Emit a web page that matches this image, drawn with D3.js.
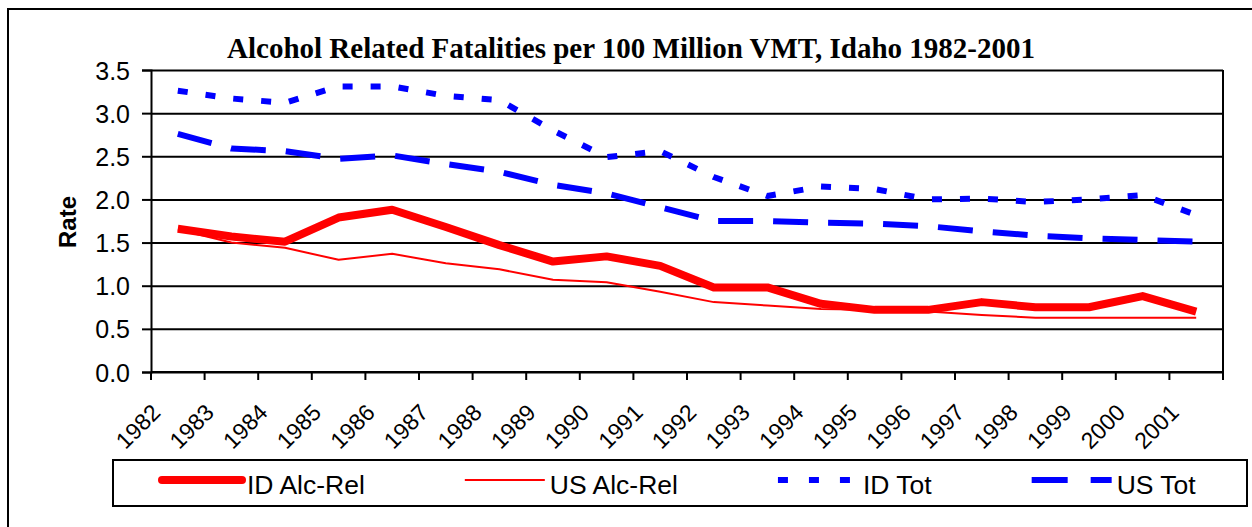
<!DOCTYPE html>
<html>
<head>
<meta charset="utf-8">
<script src="https://cdn.jsdelivr.net/npm/d3@7"></script>
<style>
  body { margin: 0; background: #fff; }
  text { font-family: "Liberation Sans", Arial, sans-serif; fill: #000; }
</style>
</head>
<body>
<div id="chart"></div>
<script>
// data
let years = ["1982","1983","1984","1985","1986","1987","1988","1989","1990","1991",
             "1992","1993","1994","1995","1996","1997","1998","1999","2000","2001"]
let idAlcRel = [1.66,1.57,1.51,1.79,1.88,1.68,1.47,1.28,1.34,1.23,0.98,0.98,0.79,0.72,0.72,0.81,0.75,0.75,0.88,0.70]
let usAlcRel = [1.65,1.50,1.44,1.30,1.37,1.26,1.19,1.07,1.04,0.93,0.81,0.77,0.73,0.72,0.70,0.66,0.63,0.63,0.63,0.63]
let idTot = [3.26,3.17,3.12,3.31,3.31,3.20,3.15,2.80,2.49,2.56,2.26,2.04,2.15,2.12,2.00,2.01,1.97,2.00,2.05,1.82]
let usTot = [2.76,2.59,2.56,2.47,2.51,2.41,2.32,2.17,2.07,1.91,1.75,1.75,1.73,1.72,1.69,1.63,1.58,1.55,1.53,1.51]
let yTicks = [0, 0.5, 1.0, 1.5, 2.0, 2.5, 3.0, 3.5]
let seriesNames = ["ID Alc-Rel", "US Alc-Rel", "ID Tot", "US Tot"]

// line styles per series
let styles = [
  { values: idAlcRel, color: "#ff0000", width: 8, dash: null },
  { values: usAlcRel, color: "#ff0000", width: 2, dash: null },
  { values: idTot, color: "#0000ff", width: 6, dash: "10,18" },
  { values: usTot, color: "#0000ff", width: 6, dash: "35,20" }
]

let width = 1252, height = 527
let plot = { left: 151, right: 1223, top: 70, bottom: 372 }

let svg = d3.select("#chart")
  .append("svg")
  .attr("width", width)
  .attr("height", height)

// outer chart frame
svg.append("rect")
  .attr("x", 8).attr("y", 9)
  .attr("width", 1270).attr("height", 540)
  .attr("fill", "none")
  .attr("stroke", "#000")
  .attr("stroke-width", 2)

let x = d3.scaleBand().domain(years).range([plot.left, plot.right])
let y = d3.scaleLinear().domain([0, 3.5]).range([plot.bottom, plot.top])

// title
svg.append("text")
  .attr("x", 631).attr("y", 58)
  .attr("text-anchor", "middle")
  .style("font-family", "'Liberation Serif', 'Times New Roman', serif")
  .style("font-weight", "bold")
  .style("font-size", "29px")
  .text("Alcohol Related Fatalities per 100 Million VMT, Idaho 1982-2001")

// gridlines
svg.append("g")
  .attr("transform", `translate(${plot.left},0)`)
  .call(d3.axisLeft(y).tickValues(yTicks).tickSize(-(plot.right - plot.left)).tickFormat(""))
  .call(g => g.select(".domain").remove())
  .selectAll("line")
  .attr("stroke", "#000")
  .attr("stroke-width", 2)

// y axis with labels
svg.append("g")
  .attr("transform", `translate(${plot.left},0)`)
  .call(d3.axisLeft(y).tickValues(yTicks).tickSize(9).tickPadding(12).tickFormat(d3.format(".1f")))
  .call(g => g.select(".domain").attr("stroke-width", 2))
  .call(g => g.selectAll("line").attr("stroke-width", 2))
  .call(g => g.selectAll("text")
    .style("font-size", "25px")
    .style("font-family", "'Liberation Sans', Arial, sans-serif")
    .attr("dy", "0.36em"))

// right border of plot area
svg.append("line")
  .attr("x1", plot.right).attr("x2", plot.right)
  .attr("y1", plot.top).attr("y2", plot.bottom)
  .attr("stroke", "#000").attr("stroke-width", 2)

// x axis baseline and tick marks between categories
svg.append("line")
  .attr("x1", plot.left).attr("x2", plot.right)
  .attr("y1", plot.bottom).attr("y2", plot.bottom)
  .attr("stroke", "#000").attr("stroke-width", 2)

let tickPos = years.map(d => x(d)).concat([x.range()[1]])
svg.append("g")
  .selectAll("line")
  .data(tickPos)
  .enter()
  .append("line")
  .attr("x1", d => d).attr("x2", d => d)
  .attr("y1", plot.bottom).attr("y2", plot.bottom + 8)
  .attr("stroke", "#000").attr("stroke-width", 2)

// rotated year labels
svg.append("g")
  .selectAll("text")
  .data(years)
  .enter()
  .append("text")
  .attr("transform", d => `translate(${x(d) + x.bandwidth() / 2 - 16},414) rotate(-45)`)
  .attr("text-anchor", "end")
  .style("font-size", "23px")
  .text(d => d)

// y axis title
svg.append("text")
  .attr("transform", "translate(76,222) rotate(-90)")
  .attr("text-anchor", "middle")
  .style("font-weight", "bold")
  .style("font-size", "24px")
  .text("Rate")

// series lines, drawn back to front
let line = d3.line()
  .x((d, i) => x(years[i]) + x.bandwidth() / 2)
  .y(d => y(d))

let drawOrder = [3, 2, 1, 0]
svg.append("g")
  .selectAll("path")
  .data(drawOrder.map(i => styles[i]))
  .enter()
  .append("path")
  .attr("d", d => line(d.values))
  .attr("fill", "none")
  .attr("stroke", d => d.color)
  .attr("stroke-width", d => d.width)
  .attr("stroke-dasharray", d => d.dash)
  .attr("stroke-linejoin", "round")

// legend
let legend = svg.append("g")
legend.append("rect")
  .attr("x", 113).attr("y", 460)
  .attr("width", 1134).attr("height", 46)
  .attr("fill", "none")
  .attr("stroke", "#000")
  .attr("stroke-width", 2)

let lx = 162
seriesNames.forEach(function(name, i) {
  let s = styles[i]
  legend.append("line")
    .attr("x1", lx).attr("x2", lx + 80)
    .attr("y1", 480).attr("y2", 480)
    .attr("stroke", s.color)
    .attr("stroke-width", s.width)
    .attr("stroke-dasharray", s.dash ? (i == 2 ? "10,21" : "36,23") : null)
    .attr("stroke-linecap", i == 0 ? "round" : "butt")
  let t = legend.append("text")
    .attr("x", lx + 85).attr("y", 494)
    .style("font-size", "26.5px")
    .text(name)
  lx += 85 + t.node().getComputedTextLength() + 100
})
</script>
</body>
</html>
